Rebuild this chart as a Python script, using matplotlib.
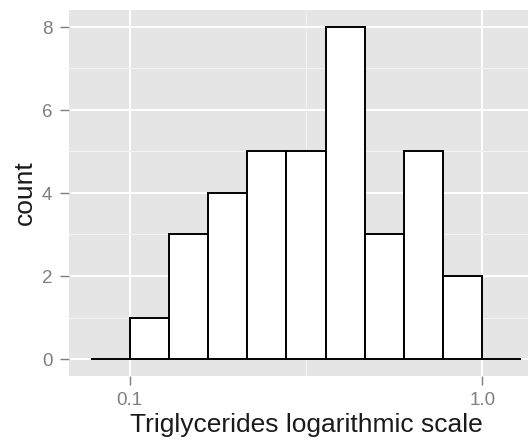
import matplotlib
matplotlib.use("Agg")
import matplotlib.pyplot as plt
import matplotlib.ticker as mticker
import numpy as np

# histogram of triglycerides on a log10 axis, binwidth 1/9 decade
bin_width = 1 / 9
first_edge = -10 / 9
counts = [0, 1, 3, 4, 5, 5, 8, 3, 5, 2, 0]

x_breaks = [0.1, 1.0]
x_labels = ["0.1", "1.0"]
y_breaks = [0, 2, 4, 6, 8]

log_edges = first_edge + bin_width * np.arange(len(counts) + 1)
edges = 10 ** log_edges

plt.rcParams["font.family"] = ["Liberation Sans", "DejaVu Sans"]

fig = plt.figure(figsize=(5.28, 4.40), dpi=100)
ax = fig.add_axes([69 / 528, (440 - 375.6) / 440, 474 / 528, 365.2 / 440])
ax.set_facecolor("#E5E5E5")

ax.bar(edges[:-1], counts, width=np.diff(edges), align="edge",
       facecolor="white", edgecolor="black", linewidth=1.4, zorder=3)

ax.set_xscale("log")
span = log_edges[-1] - log_edges[0]
ax.set_xlim(10 ** (log_edges[0] - 0.05 * span), 10 ** (log_edges[-1] + 0.05 * span))
ax.set_ylim(-0.4, 8.4)

ax.xaxis.set_major_locator(mticker.FixedLocator(x_breaks))
ax.xaxis.set_major_formatter(mticker.FixedFormatter(x_labels))
ax.xaxis.set_minor_locator(mticker.FixedLocator([10 ** -0.5]))
ax.xaxis.set_minor_formatter(mticker.NullFormatter())
ax.yaxis.set_major_locator(mticker.FixedLocator(y_breaks))
ax.yaxis.set_minor_locator(mticker.FixedLocator([1, 3, 5, 7]))

ax.grid(which="major", color="white", linewidth=1.4)
ax.grid(which="minor", color="#F2F2F2", linewidth=0.8)
ax.set_axisbelow(True)

for s in ax.spines.values():
    s.set_visible(False)

ax.tick_params(which="major", direction="out", length=6.4, width=1.0,
               color="#7F7F7F", labelcolor="#7F7F7F", labelsize=13.5, pad=5.5)
ax.tick_params(which="minor", length=0)

ax.set_xlabel("Triglycerides logarithmic scale", fontsize=19, color="#1A1A1A", labelpad=3)
ax.set_ylabel("count", fontsize=19, color="#1A1A1A", labelpad=4)

fig.savefig("out.png", dpi=100)
